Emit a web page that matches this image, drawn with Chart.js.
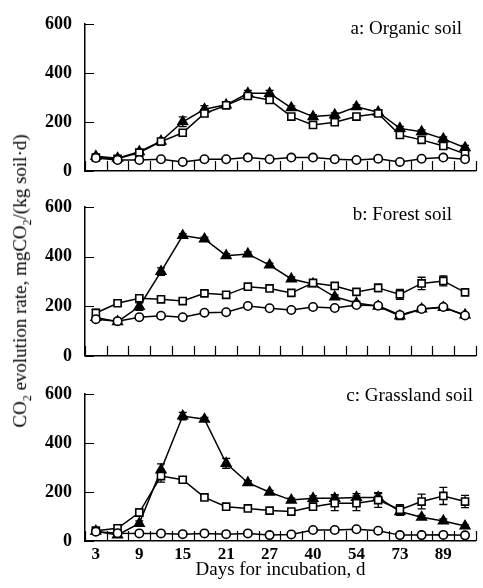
<!DOCTYPE html>
<html>
<head>
<meta charset="utf-8">
<script src="https://cdn.jsdelivr.net/npm/chart.js@4.4.0/dist/chart.umd.min.js"></script>
<style>
  html, body { margin: 0; padding: 0; background: #fff; }
  #wrap { position: relative; width: 483px; height: 588px; overflow: hidden;
          font-family: "Liberation Serif", "Times New Roman", serif; }
  canvas { position: absolute; left: 0; }
  #ytitle { position: absolute; left: 22px; top: 281px; white-space: nowrap; font-size: 19px;
            transform: translate(-50%, -50%) rotate(-90deg); }
  #ytitle sub { font-size: 12px; }
</style>
</head>
<body>
<div id="wrap">
  <canvas id="pa" width="483" height="180" style="top:0px"></canvas>
  <canvas id="pb" width="483" height="180" style="top:183px"></canvas>
  <canvas id="pc" width="483" height="218" style="top:370px"></canvas>
  <div id="ytitle">CO<sub>2</sub> evolution rate, mgCO<sub>2</sub>/(kg soil·d)</div>
</div>
<script>
// incubation days (only every other one is labelled)
const days = [3, 6, 9, 12, 15, 18, 21, 24, 27, 33, 40, 47, 54, 61, 73, 81, 89, 97];
const yTicks = [0, 200, 400, 600];

// a: Organic soil
const orgCircle   = [53, 45, 45, 48, 37, 48, 48, 55, 48, 55, 55, 48, 45, 50, 37, 50, 55, 48];
const orgSquare   = [55, 50, 75, 120, 156, 235, 268, 306, 290, 222, 188, 199, 222, 235, 147, 127, 102, 70];
const orgTriangle = [60, 52, 79, 122, 201, 252, 270, 317, 317, 258, 222, 229, 262, 240, 174, 160, 131, 95];
const orgCircleErr   = [5, 3, 3, 3, 3, 3, 3, 8, 3, 5, 5, 3, 3, 3, 3, 3, 3, 3];
const orgSquareErr   = [5, 5, 5, 5, 8, 10, 8, 8, 10, 8, 8, 8, 8, 8, 8, 8, 8, 8];
const orgTriangleErr = [8, 5, 6, 8, 20, 15, 8, 12, 12, 8, 8, 8, 8, 8, 8, 8, 8, 10];

// b: Forest soil
const forCircle   = [148, 140, 156, 162, 156, 174, 176, 201, 192, 185, 197, 193, 205, 202, 165, 189, 197, 163];
const forSquare   = [173, 212, 232, 228, 221, 252, 246, 279, 272, 254, 294, 282, 258, 274, 248, 292, 302, 256];
const forTriangle = [155, 138, 199, 340, 485, 471, 404, 411, 366, 310, 290, 238, 213, 200, 161, 189, 195, 165];
const forCircleErr   = [8, 5, 5, 5, 5, 5, 5, 5, 5, 5, 5, 5, 5, 5, 5, 5, 5, 5];
const forSquareErr   = [15, 8, 8, 8, 8, 8, 8, 8, 8, 8, 10, 10, 8, 15, 20, 25, 20, 8];
const forTriangleErr = [10, 5, 15, 15, 8, 8, 8, 8, 8, 8, 8, 8, 8, 8, 15, 8, 8, 8];

// c: Grassland soil
const graCircle   = [38, 32, 31, 31, 28, 31, 28, 31, 24, 27, 45, 45, 48, 42, 24, 24, 25, 23];
const graSquare   = [42, 52, 116, 265, 250, 178, 140, 133, 124, 120, 140, 154, 154, 167, 128, 161, 184, 161];
const graTriangle = [40, 25, 72, 290, 510, 497, 317, 238, 199, 167, 174, 174, 178, 178, 120, 97, 82, 61];
const graCircleErr   = [5, 5, 3, 3, 3, 3, 3, 3, 3, 3, 5, 8, 5, 5, 3, 3, 3, 3];
const graSquareErr   = [8, 10, 15, 25, 12, 8, 8, 8, 8, 8, 15, 30, 30, 30, 20, 30, 35, 25];
const graTriangleErr = [5, 5, 10, 25, 15, 8, 20, 8, 8, 8, 10, 15, 15, 15, 15, 8, 8, 5];

const FONT = '"Liberation Serif", "Times New Roman", serif';

// error bars, drawn behind the markers
const errorBars = {
  id: 'errorBars',
  beforeDatasetsDraw(chart) {
    const ctx = chart.ctx, ys = chart.scales.y;
    ctx.save();
    ctx.strokeStyle = '#000';
    ctx.lineWidth = 1.3;
    chart.data.datasets.forEach((ds, di) => {
      chart.getDatasetMeta(di).data.forEach((pt, i) => {
        const e = ds.errors[i];
        const t = ys.getPixelForValue(ds.data[i] + e);
        const b = ys.getPixelForValue(ds.data[i] - e);
        ctx.beginPath();
        ctx.moveTo(pt.x, t); ctx.lineTo(pt.x, b);
        ctx.moveTo(pt.x - 4, t); ctx.lineTo(pt.x + 4, t);
        ctx.moveTo(pt.x - 4, b); ctx.lineTo(pt.x + 4, b);
        ctx.stroke();
      });
    });
    ctx.restore();
  }
};

// tick marks pointing into the plot, plus the panel caption
const innerTicks = {
  id: 'innerTicks',
  afterDraw(chart, args, opts) {
    const ctx = chart.ctx, xs = chart.scales.x, ys = chart.scales.y, area = chart.chartArea;
    const half = (xs.getPixelForValue(1) - xs.getPixelForValue(0)) / 2;
    ctx.save();
    ctx.strokeStyle = '#000';
    ctx.lineWidth = 1.2;
    ctx.beginPath();
    for (let i = 0; i <= days.length; i++) {
      const x = Math.round(xs.getPixelForValue(i) - half) + 0.5;
      ctx.moveTo(x, area.bottom); ctx.lineTo(x, area.bottom - 10);
    }
    yTicks.forEach(v => {
      const y = Math.round(ys.getPixelForValue(v)) + 0.5;
      ctx.moveTo(area.left, y); ctx.lineTo(area.left + 9, y);
    });
    ctx.stroke();
    ctx.fillStyle = '#000';
    ctx.font = '19px ' + FONT;
    ctx.textAlign = 'right';
    ctx.textBaseline = 'middle';
    ctx.fillText(opts.text, opts.right, opts.y);
    ctx.restore();
  }
};

function series(data, errors, style, radius, fill) {
  return {
    data: data, errors: errors,
    borderColor: '#000', borderWidth: 1.5,
    pointStyle: style, pointRadius: radius,
    pointBackgroundColor: fill, pointBorderColor: '#000', pointBorderWidth: 1.6,
    tension: 0
  };
}

function makePanel(id, caption, right, capY, c, s, t, ce, se, te, xHeight, showX) {
  return new Chart(document.getElementById(id), {
    type: 'line',
    data: {
      labels: days,
      datasets: [
        series(c, ce, 'circle', 4.2, '#fff'),
        series(s, se, 'rect', 5, '#fff'),
        series(t, te, 'triangle', 5.5, '#000')
      ]
    },
    plugins: [errorBars, innerTicks],
    options: {
      responsive: false,
      animation: false,
      layout: { padding: { top: 24, left: 0, right: 0, bottom: 0 } },
      plugins: {
        legend: { display: false },
        tooltip: { enabled: false },
        innerTicks: { text: caption, right: right, y: capY }
      },
      scales: {
        x: {
          type: 'category',
          offset: true,
          grid: { display: false, offset: true, drawTicks: false },
          border: { display: true, color: '#000', width: 1.5 },
          ticks: {
            display: showX,
            autoSkip: false,
            maxRotation: 0,
            padding: 3,
            color: '#000',
            font: { family: FONT, size: 17, weight: 'bold' },
            callback: (v, i) => (i % 2 === 0 ? String(days[i]) : '')
          },
          title: {
            display: showX,
            text: 'Days for incubation, d',
            color: '#000',
            padding: { top: 0, bottom: 7 },
            font: { family: FONT, size: 19 }
          },
          afterFit: sc => { sc.height = xHeight; sc.paddingLeft = 0; sc.paddingRight = 0; }
        },
        y: {
          min: 0, max: 600,
          grid: { display: false, drawTicks: false },
          border: { display: true, color: '#000', width: 1.5 },
          afterBuildTicks: sc => { sc.ticks = yTicks.map(v => ({ value: v })); },
          ticks: {
            padding: 13,
            color: '#000',
            font: { family: FONT, size: 18, weight: 'bold' }
          },
          afterFit: sc => { sc.width = 85; sc.paddingTop = 0; sc.paddingBottom = 0; }
        }
      }
    }
  });
}

makePanel('pa', 'a: Organic soil', 462, 29, orgCircle, orgSquare, orgTriangle,
  orgCircleErr, orgSquareErr, orgTriangleErr, 9, false);
makePanel('pb', 'b: Forest soil', 452, 32, forCircle, forSquare, forTriangle,
  forCircleErr, forSquareErr, forTriangleErr, 7, false);
makePanel('pc', 'c: Grassland soil', 473, 26, graCircle, graSquare, graTriangle,
  graCircleErr, graSquareErr, graTriangleErr, 47, true);
</script>
</body>
</html>
